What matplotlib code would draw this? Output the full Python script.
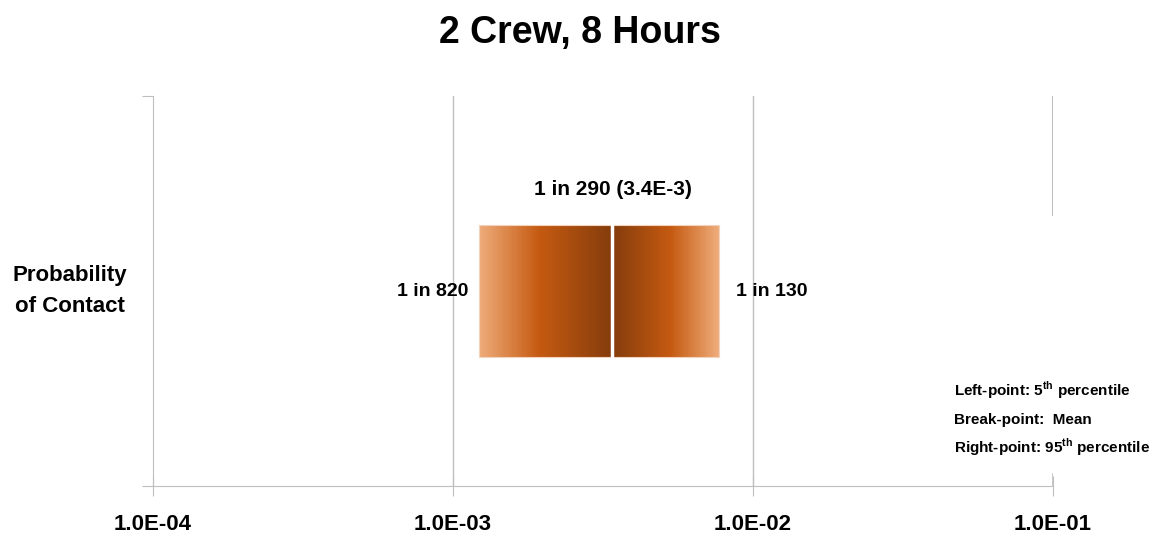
import numpy as np
import matplotlib
matplotlib.use("Agg")
from matplotlib import pyplot as plt
from matplotlib.colors import LinearSegmentedColormap

plt.rcParams['font.family'] = ['Liberation Sans', 'DejaVu Sans']
plt.rcParams['font.weight'] = 'bold'
plt.rcParams['mathtext.fontset'] = 'custom'
plt.rcParams['mathtext.rm'] = 'Liberation Sans'
plt.rcParams['mathtext.bf'] = 'Liberation Sans:bold'

# data
p05 = 1 / 820      # 5th percentile
p_mean = 3.4e-3    # mean
p95 = 1 / 130      # 95th percentile
tick_vals = [1e-4, 1e-3, 1e-2, 1e-1]
tick_labels = ['1.0E-04', '1.0E-03', '1.0E-02', '1.0E-01']

grey = '#bfbfbf'
cmap = LinearSegmentedColormap.from_list('brn', [(0, '#eeab7a'), (0.45, '#c55a11'), (1, '#843c0c')])

fig = plt.figure(figsize=(11.59, 5.39), dpi=100)
ax = fig.add_axes([153 / 1159, 53 / 539, 900 / 1159, 390 / 539])
ax.set_xscale('log')
ax.set_xlim(1e-4, 1e-1)
ax.set_ylim(0, 1)

# gridlines
for v in tick_vals[1:3]:
    ax.axvline(v, color=grey, lw=1, zorder=0)
ax.axvline(1e-1, ymin=(486 - 215) / 390, ymax=1, color=grey, lw=1.5, zorder=0)
ax.axvline(1e-1, ymin=0, ymax=0.03, color=grey, lw=1.2, zorder=0)

# gradient bar: left half light -> dark, right half dark -> light
n = 120
yc, h = 0.5, 0.34
for a, b, rev in [(p05, p_mean, False), (p_mean, p95, True)]:
    edges = np.logspace(np.log10(a), np.log10(b), n + 1)
    t = np.linspace(0, 1, n)
    if rev:
        t = 1 - t
    ax.barh(yc, np.diff(edges), left=edges[:-1], height=h, color=cmap(t),
            linewidth=0, zorder=2)
    ax.barh(yc, b - a, left=a, height=h, fill=False, edgecolor='#f4d3bc',
            linewidth=0.8, zorder=3)
ax.axvline(p_mean, ymin=yc - h / 2, ymax=yc + h / 2, color='white', lw=2.5, zorder=4)

# labels
ax.text(p_mean, yc + h / 2 + 0.09, '1 in 290 (3.4E-3)', ha='center', va='center', fontsize=15)
ax.text(p05 / 1.08, yc, '1 in 820', ha='right', va='center', fontsize=14)
ax.text(p95 * 1.14, yc, '1 in 130', ha='left', va='center', fontsize=14)

ax.text(0.89, 0.245, 'Left-point: 5$^{\\mathbf{th}}$ percentile', transform=ax.transAxes,
        fontsize=11, va='center')
ax.text(0.89, 0.17, 'Break-point:  Mean', transform=ax.transAxes, fontsize=11, va='center')
ax.text(0.89, 0.10, 'Right-point: 95$^{\\mathbf{th}}$ percentile', transform=ax.transAxes,
        fontsize=11, va='center')

# axes styling
for s in ['top', 'right']:
    ax.spines[s].set_visible(False)
ax.spines['left'].set_color(grey)
ax.spines['bottom'].set_color(grey)
ax.set_xticks(tick_vals)
ax.set_xticklabels(tick_labels, fontsize=16)
ax.xaxis.set_minor_locator(matplotlib.ticker.NullLocator())
ax.tick_params(axis='x', direction='inout', length=14, color=grey, pad=13)
ax.set_yticks([0, 1])
ax.set_yticklabels([])
ax.tick_params(axis='y', direction='out', length=8, color=grey)

fig.text(70 / 1159, 1 - 291 / 539, 'Probability\nof Contact', ha='center', va='center',
         fontsize=16, linespacing=1.6)
fig.suptitle('2 Crew, 8 Hours', y=1 - 33 / 539, va='center', fontsize=27, fontweight='bold')

fig.savefig('out.png', dpi=100)
